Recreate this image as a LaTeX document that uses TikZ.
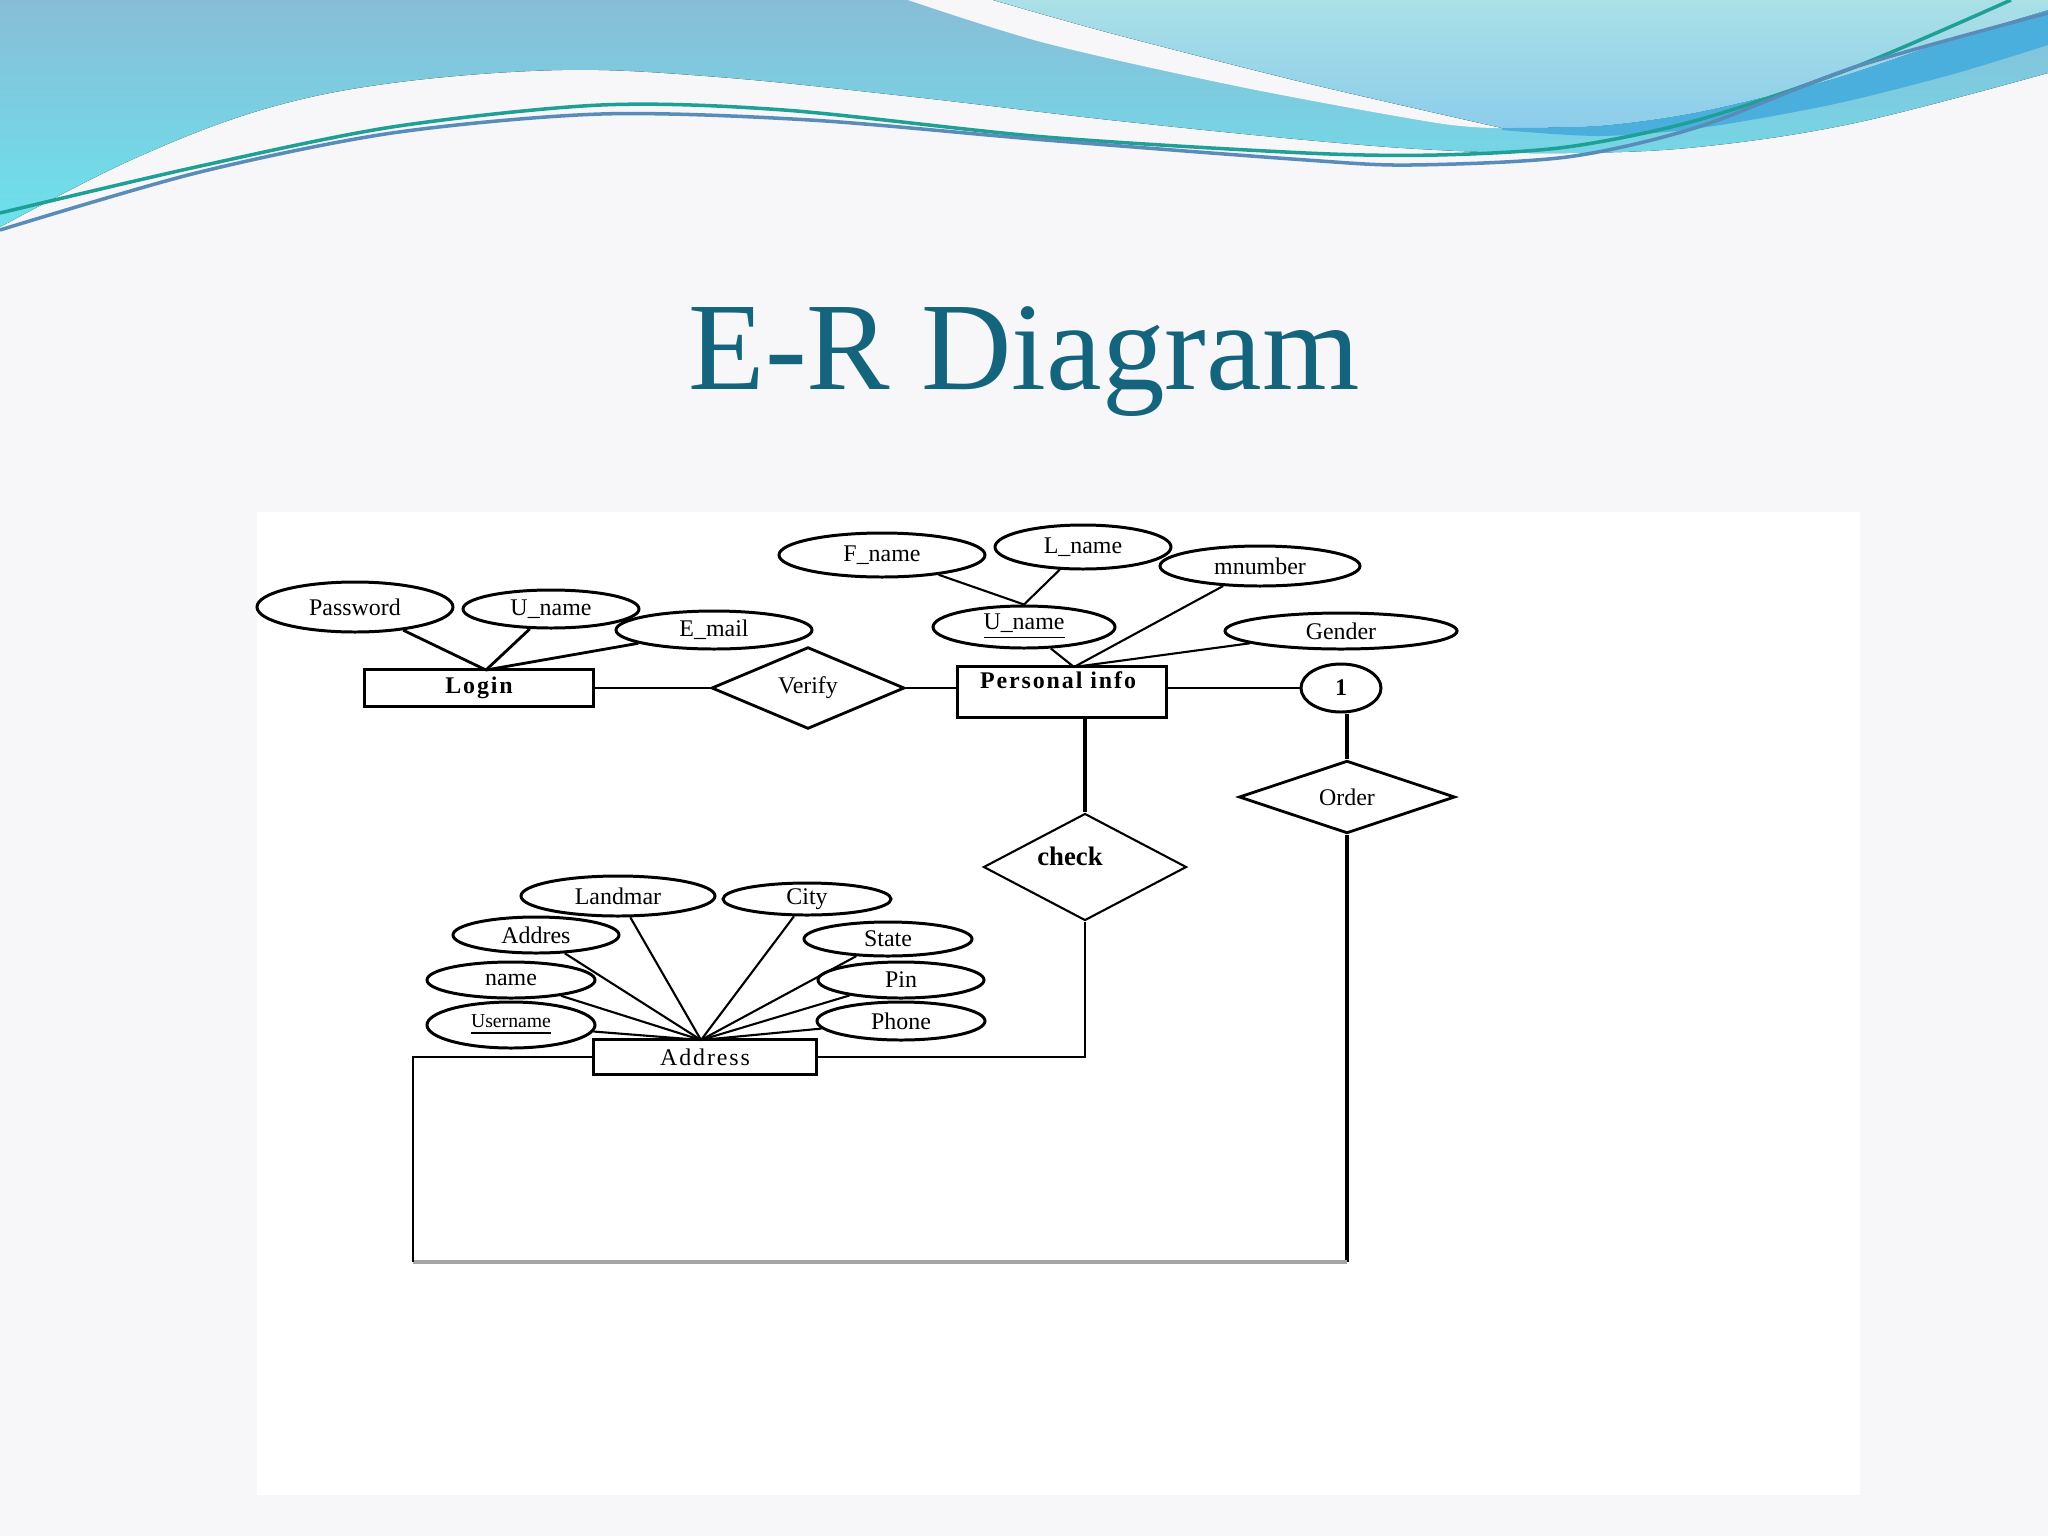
\documentclass[tikz,border=0pt]{standalone}
\usepackage{fontspec}
\setmainfont{Liberation Serif}
\newfontfamily\erspaced[LetterSpace=8]{Liberation Serif}
\usetikzlibrary{shapes.geometric}
\newdimen\pxu \pxu=0.01cm
\newcommand\erfont{\fontsize{6.8}{8}\selectfont}
\definecolor{bgc}{RGB}{247,247,249}
\definecolor{titlec}{RGB}{20,100,125}
\definecolor{waveAtop}{RGB}{136,189,215}
\definecolor{waveAbot}{RGB}{108,226,236}
\definecolor{aqtop}{RGB}{170,224,230}
\definecolor{aqbot}{RGB}{140,205,235}
\definecolor{ribbonc}{RGB}{75,175,222}
\definecolor{lineA}{RGB}{30,160,150}
\definecolor{lineB}{RGB}{90,140,185}
\definecolor{loopgrey}{RGB}{165,165,165}
\begin{document}
\begin{tikzpicture}[x=0.01cm,y=-0.01cm,
  attr/.style={draw=black, line width=0.85pt, ellipse, inner sep=0pt, font=\erfont},
  entity/.style={draw=black, line width=0.9pt, rectangle, inner sep=0pt, font=\erfont},
  rel/.style={draw=black, line width=0.8pt, diamond, inner sep=0pt, font=\erfont},
  conn/.style={line width=0.6pt},
  midconn/.style={line width=0.8pt},
  thickconn/.style={line width=1.2pt}]
\useasboundingbox (0,0) rectangle (2048,1536);
\fill[bgc] (0,0) rectangle (2048,1536);
% top decoration
\fill[top color=waveAtop, bottom color=waveAbot] (0,0) -- (2048,0) -- plot[smooth, tension=0.6] coordinates {(2048,73) (1855,123) (1698,147) (1567,153) (1437,150) (1306,140) (1110,120) (914,97) (718,77) (562,70) (392,83) (261,110) (131,160) (0,227)} -- cycle;
\fill[bgc] plot[smooth] coordinates {(908,0) (1045,43) (1241,87) (1437,123) (1502,128)} -- plot[smooth] coordinates {(1502,128) (1306,83) (1110,33) (993,0)} -- cycle;
\fill[top color=aqtop, bottom color=aqbot] (993,0) -- (2048,0) -- plot[smooth] coordinates {(2048,10) (1950,40) (1830,80) (1700,112) (1600,126) (1502,128)} -- plot[smooth] coordinates {(1502,128) (1306,83) (1110,33) (993,0)} -- cycle;
\fill[ribbonc] plot[smooth] coordinates {(1502,128) (1600,126) (1700,112) (1830,80) (1950,40) (2048,10)} -- plot[smooth] coordinates {(2048,45) (1950,75) (1830,105) (1700,128) (1600,136) (1502,130)} -- cycle;
\draw[lineA, line width=1pt] plot[smooth] coordinates {(0,213) (196,167) (392,127) (601,105) (784,110) (1045,137) (1306,153) (1437,155) (1567,147) (1698,120) (1855,67) (2011,0)};
\draw[lineB, line width=1pt] plot[smooth] coordinates {(0,230) (196,173) (392,133) (601,114) (810,120) (1045,140) (1306,160) (1411,165) (1567,157) (1698,127) (1855,67) (2048,13)};
% title
\node[anchor=base, text=titlec, font=\fontsize{35.6}{40}\selectfont, inner sep=0pt] (title) at (1024,389) {E-R Diagram};
% panel
\fill[white] (257,512) rectangle (1860,1495);
% entities and relations
\node[entity, minimum width=229\pxu, minimum height=37\pxu, font=\erfont\erspaced\bfseries] (login) at (479,688) {Login};
\node[rel, minimum width=193\pxu, minimum height=61\pxu] (verify) at (808,688) {Verify};
\node[entity, minimum width=209\pxu, minimum height=51\pxu, label={[font=\erfont\erspaced\bfseries, xshift=-4\pxu, yshift=12\pxu]center:Personal info}] (pi) at (1062,692) {};
\node[attr, minimum width=80\pxu, minimum height=48\pxu, font=\erfont\bfseries] (one) at (1341,688) {1};
\node[rel, minimum width=216\pxu, minimum height=68\pxu] (ord) at (1347,797) {Order};
\node[rel, minimum width=203\pxu, minimum height=107\pxu, line width=0.6pt, label={[font=\fontsize{7.6}{9}\selectfont\bfseries, xshift=-15\pxu, yshift=11\pxu]center:check}] (chk) at (1085,867) {};
\node[entity, minimum width=223\pxu, minimum height=35\pxu, font=\erfont\erspaced] (addr) at (705,1057) {Address};
% attributes of Login
\node[attr, minimum width=196\pxu, minimum height=50\pxu] (pw) at (355,607) {Password};
\node[attr, minimum width=176\pxu, minimum height=38\pxu] (lun) at (551,609) {U\_name};
\node[attr, minimum width=196\pxu, minimum height=38\pxu] (em) at (714,630) {E\_mail};
% attributes of Personal info
\node[attr, minimum width=206\pxu, minimum height=44\pxu] (fn) at (882,555) {F\_name};
\node[attr, minimum width=176\pxu, minimum height=44\pxu] (ln) at (1083,547) {L\_name};
\node[attr, minimum width=200\pxu, minimum height=40\pxu] (mn) at (1260,566) {mnumber};
\node[attr, minimum width=182\pxu, minimum height=42\pxu] (upi) at (1024,627) {\underline{U\_name}};
\node[attr, minimum width=232\pxu, minimum height=36\pxu] (gen) at (1341,631) {Gender};
% attributes of Address
\node[attr, minimum width=194\pxu, minimum height=40\pxu] (lm) at (618,896) {Landmar};
\node[attr, minimum width=168\pxu, minimum height=32\pxu] (city) at (807,899) {City};
\node[attr, minimum width=166\pxu, minimum height=36\pxu] (ads) at (536,935) {Addres};
\node[attr, minimum width=168\pxu, minimum height=34\pxu] (st) at (888,939) {State};
\node[attr, minimum width=168\pxu, minimum height=36\pxu] (nm) at (511,980) {name};
\node[attr, minimum width=166\pxu, minimum height=36\pxu] (pin) at (901,980) {Pin};
\node[attr, minimum width=168\pxu, minimum height=46\pxu, font=\fontsize{5.6}{7}\selectfont] (un) at (511,1025) {\underline{Username}};
\node[attr, minimum width=168\pxu, minimum height=38\pxu] (ph) at (901,1021) {Phone};
% convergence points
\coordinate (lgtop) at (486,670);
\coordinate (pitop) at (1074,667);
\coordinate (adtop) at (701,1040);
\coordinate (lb) at (413,1262);
% connectors
\draw[midconn] (pw) -- (lgtop);
\draw[midconn] (lun) -- (lgtop);
\draw[midconn] (em) -- (lgtop);
\draw[midconn] (login.east) -- (verify.west);
\draw[midconn] (verify.east) -- (verify.east -| pi.west);
\draw[conn] (fn) -- (upi.north);
\draw[conn] (ln) -- (upi.north);
\draw[conn] (upi) -- (pitop);
\draw[conn] (mn) -- (pitop);
\draw[conn] (gen) -- (pitop);
\draw[midconn] (pi.east |- one.west) -- (one.west);
\draw[thickconn] (one.south -| ord.north) -- (ord.north);
\draw[thickconn] (pi.south -| chk.north) -- (chk.north);
\draw[midconn] (chk.south) -- (chk.south |- addr.east) -- (addr.east);
\draw[thickconn] (ord.south) -- (ord.south |- lb);
\draw[loopgrey, line width=1.2pt] (ord.south |- lb) -- (lb);
\draw[midconn] (lb) -- (lb |- addr.west) -- (addr.west);
\foreach \a in {lm,city,ads,st,nm,pin,un,ph}{\draw[conn] (\a) -- (adtop);}
\end{tikzpicture}
\end{document}
